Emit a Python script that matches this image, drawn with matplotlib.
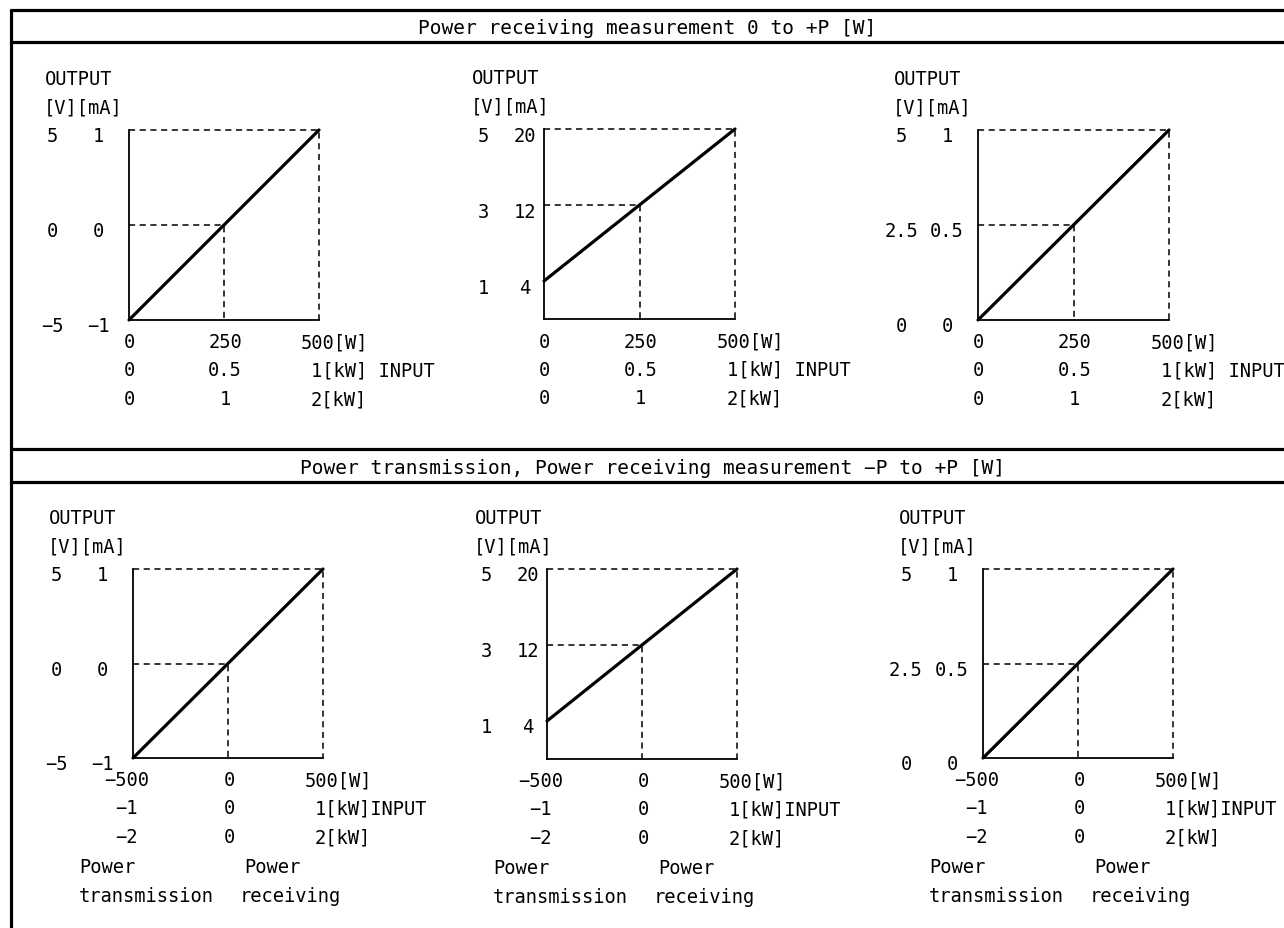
import matplotlib
matplotlib.use('Agg')
import matplotlib.pyplot as plt

plt.rcParams['font.family'] = ['DejaVu Sans Mono', 'DejaVu Sans']
FS = 13.5
FS_HEAD = 14

# section headers
section_titles = ['Power receiving measurement 0 to +P [W]',
                  'Power transmission, Power receiving measurement \u2212P to +P [W]']

# input scales, one per row (W and the two kW ranges)
row_w = [[0, 250, 500], [-500, 0, 500]]
row_w_labels = [['0', '250', '500'], ['\u2212500', '0', '500']]
row_kw1 = [['0', '0.5', '1'], ['\u22121', '0', '1']]
row_kw2 = [['0', '1', '2'], ['\u22122', '0', '2']]
row_input_text = ['[kW] INPUT', '[kW]INPUT']

# output scales, one per column (mA and V)
col_ma = [[-1, 0, 1], [4, 12, 20], [0, 0.5, 1]]
col_ma_labels = [['\u22121', '0', '1'], ['4', '12', '20'], ['0', '0.5', '1']]
col_v_labels = [['\u22125', '0', '5'], ['1', '3', '5'], ['0', '2.5', '5']]
col_ylim = [(-1, 1), (0, 20), (0, 1)]

W, H = 1284, 929
# plot boxes in pixels: left, top, right, bottom
boxes = [[(129, 131, 319, 321), (544, 130, 735, 320), (978, 131, 1169, 321)],
         [(133, 570, 323, 759), (547, 570, 737, 760), (983, 570, 1173, 759)]]
# x offset of V / mA label columns
v_dx = [-77, -61, -77]
ma_dx = [-31, -19, -31]
out_dx = [-84, -72, -84]

fig = plt.figure(figsize=(W / 100, H / 100), dpi=100)

# frame
frame = fig.add_axes([0, 0, 1, 1])
frame.set_xlim(0, W)
frame.set_ylim(H, 0)
frame.axis('off')
lw_f = 2.3
frame.plot([10, W], [11, 11], color='black', lw=lw_f, solid_capstyle='butt')
frame.plot([10, W], [42.5, 42.5], color='black', lw=lw_f, solid_capstyle='butt')
frame.plot([10, W], [450, 450], color='black', lw=lw_f, solid_capstyle='butt')
frame.plot([10, W], [483, 483], color='black', lw=lw_f, solid_capstyle='butt')
frame.plot([10.5, 10.5], [10, H], color='black', lw=lw_f, solid_capstyle='butt')
frame.text(647, 28, section_titles[0], ha='center', va='center', fontsize=FS_HEAD)
frame.text(652, 468, section_titles[1], ha='center', va='center', fontsize=FS_HEAD)

dash = (0, (4, 3))


def lab(ax, s, xy, coords, dx, dy, ha='center'):
    ax.annotate(s, xy=xy, xycoords=coords, xytext=(dx, dy),
                textcoords='offset pixels', ha=ha, va='center',
                fontsize=FS, annotation_clip=False)


for r in range(2):
    for c in range(3):
        L, T, R, B = boxes[r][c]
        ax = fig.add_axes([L / W, 1 - B / H, (R - L) / W, (B - T) / H])
        ax.patch.set_visible(False)
        xs = row_w[r]
        ys = col_ma[c]
        ax.set_xlim(xs[0], xs[2])
        ax.set_ylim(*col_ylim[c])
        for side in ['top', 'right']:
            ax.spines[side].set_visible(False)
        for side in ['left', 'bottom']:
            ax.spines[side].set_linewidth(1.3)
        ax.set_xticks([])
        ax.set_yticks([])

        # guides
        ax.plot([xs[0], xs[2], xs[2]], [ys[2], ys[2], col_ylim[c][0]],
                color='black', lw=1.1, linestyle=dash, clip_on=False)
        ax.plot([xs[0], xs[1], xs[1]], [ys[1], ys[1], col_ylim[c][0]],
                color='black', lw=1.1, linestyle=dash, clip_on=False)
        # characteristic
        ax.plot([xs[0], xs[2]], [ys[0], ys[2]], color='black', lw=2.3,
                clip_on=False, solid_capstyle='round')

        # output labels
        lab(ax, 'OUTPUT', (0, 1), 'axes fraction', out_dx[c], 51, ha='left')
        lab(ax, '[V][mA]', (0, 1), 'axes fraction', out_dx[c] - 1, 23, ha='left')
        for i in range(3):
            lab(ax, col_v_labels[c][i], (0, ys[i]), ('axes fraction', 'data'),
                v_dx[c], -6)
            lab(ax, col_ma_labels[c][i], (0, ys[i]), ('axes fraction', 'data'),
                ma_dx[c], -6)

        # input labels
        rows = [row_w_labels[r], row_kw1[r], row_kw2[r]]
        dys = [-22, -50, -79]
        left_dx = [0, 0, 0] if r == 0 else [-6, -7, -7]
        for k in range(3):
            lab(ax, rows[k][0], (xs[0], 0), ('data', 'axes fraction'),
                left_dx[k], dys[k])
            lab(ax, rows[k][1], (xs[1], 0), ('data', 'axes fraction'),
                1, dys[k])
        lab(ax, row_w_labels[r][2] + '[W]', (xs[2], 0), ('data', 'axes fraction'),
            -18, dys[0], ha='left')
        lab(ax, row_kw1[r][2] + row_input_text[r], (xs[2], 0),
            ('data', 'axes fraction'), -8, dys[1], ha='left')
        lab(ax, row_kw2[r][2] + '[kW]', (xs[2], 0), ('data', 'axes fraction'),
            -8, dys[2], ha='left')

        if r == 1:
            lab(ax, 'Power', (xs[0], 0), ('data', 'axes fraction'), -54, -109, ha='left')
            lab(ax, 'transmission', (xs[0], 0), ('data', 'axes fraction'), -54, -138, ha='left')
            lab(ax, 'Power', (xs[1], 0), ('data', 'axes fraction'), 16, -109, ha='left')
            lab(ax, 'receiving', (xs[1], 0), ('data', 'axes fraction'), 12, -138, ha='left')

fig.savefig('out.png', dpi=100)
